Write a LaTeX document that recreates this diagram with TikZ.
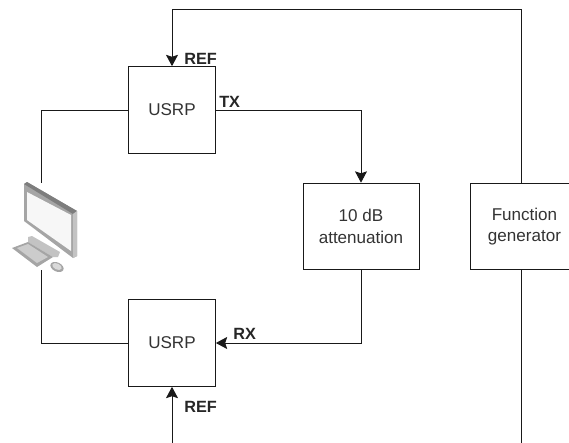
\documentclass[tikz,border=0pt]{standalone}
\usepackage{fontspec}
\setmainfont{Liberation Sans}
\usepackage{tikz}
\usetikzlibrary{positioning,arrows.meta,calc}
\definecolor{line}{RGB}{25,25,25}
\definecolor{pcedge}{RGB}{165,165,165}
\definecolor{pcside}{RGB}{195,195,195}
\definecolor{pcdark}{RGB}{125,125,125}

\begin{document}
\begin{tikzpicture}[
    x=0.75pt, y=-0.75pt,
    block/.style={draw=line, line width=0.75pt, minimum width=65pt, minimum height=65pt, inner sep=0pt, align=center, font=\fontsize{12.8}{16}\selectfont, text=black!80},
    arrow/.style={-{Stealth[length=8.5pt,width=9pt,inset=1.5pt]}, draw=line, line width=0.75pt},
    wire/.style={draw=line, line width=0.75pt},
    tag/.style={font=\fontsize{12.2}{14}\selectfont\bfseries, text=black!85, inner sep=0pt},
    node distance=37.5pt
]
    \useasboundingbox (0,0) rectangle (569,443);

    % Boxes
    \node[block] (usrptop) at (172,110) {USRP};
    \node[block] (usrpbot) at (172,343) {USRP};
    \node[block, minimum width=87pt] (atten) at (361,226.5) {10 dB\\attenuation};
    \node[block, minimum width=81.75pt, right=of atten] (func) {Function\\generator};

    % Computer
    \node[inner sep=0pt, minimum width=0pt, minimum height=65pt] (pc) at (41,226.5) {};
    \fill[pcedge] (24,184) -- (27,182) -- (77,211) -- (77,256) -- (73,258) -- (24,221) -- cycle;
    \fill[pcdark] (24,184) -- (27,182) -- (77,211) -- (73,214) -- cycle;
    \fill[pcside] (73,214) -- (77,211) -- (77,256) -- (73,258) -- cycle;
    \fill[black!3] (27,192) -- (71,215) -- (71,251) -- (27,220) -- cycle;
    \fill[pcside] (28,237) -- (32,236) -- (60,252) -- (58,257) -- (53,257) -- (28,242) -- cycle;
    \fill[pcedge] (12,248) -- (28,242) -- (53,257) -- (37,267) -- cycle;
    \fill[black!20] (17,248) -- (28,244) -- (48,257) -- (37,263) -- cycle;
    \fill[pcedge, rotate around={-25:(57,267)}] (57,267) ellipse (7 and 4.5);
    \fill[black!15, rotate around={-25:(57,266.5)}] (57,266.5) ellipse (5 and 3);

    % Arrows
    \draw[wire] (usrptop.west) -| (pc.north);
    \draw[wire] (usrpbot.west) -| (pc.south);
    \draw[arrow] (usrptop.east) -| (atten.north);
    \draw[arrow] (atten.south) |- (usrpbot.east);
    \coordinate (topturn) at (172,9);
    \draw[arrow] ([xshift=-1.9pt]func.north) |- (topturn) -- (usrptop.north);
    \coordinate (reffoot) at (172,443);
    \coordinate (funcfoot) at ([xshift=-1.9pt]func.south |- reffoot);
    \draw[wire] ([xshift=-1.9pt]func.south) -- (funcfoot);
    \draw[arrow] (reffoot) -- (usrpbot.south);

    % Labels
    \node[tag, anchor=west] (reftop) at (184,59) {REF};
    \node[tag, anchor=west] (tx) at (219,102) {TX};
    \node[tag, anchor=west] (rx) at (233,334) {RX};
    \node[tag, anchor=west] (refbot) at (184,407) {REF};
\end{tikzpicture}
\end{document}
